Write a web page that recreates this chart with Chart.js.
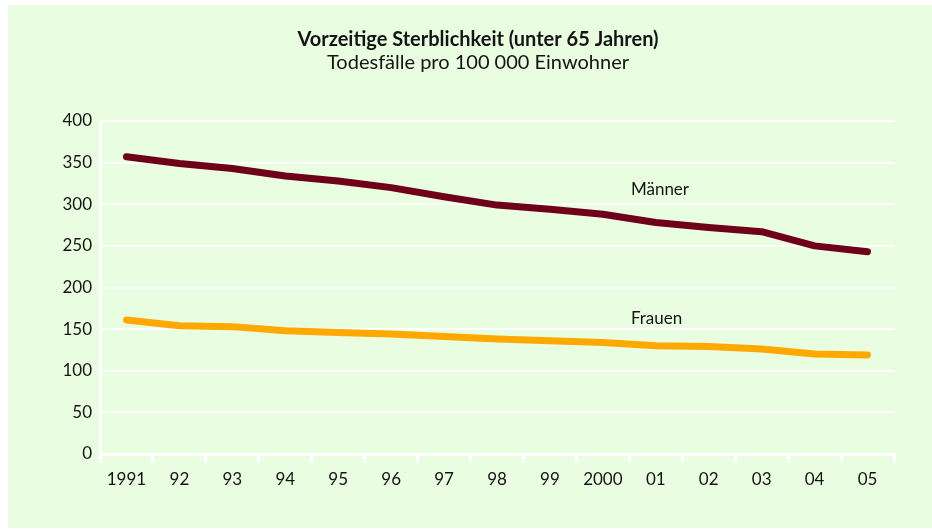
<!DOCTYPE html>
<html><head><meta charset="utf-8">
<script src="https://cdn.jsdelivr.net/npm/chart.js@4/dist/chart.umd.min.js"></script>
<style>html,body{margin:0;padding:0;background:#fff;}#wrap{width:932px;height:529px;position:relative;}</style>
</head><body><div id="wrap"><canvas id="c" width="932" height="529"></canvas></div>
<script>
const years = ['1991','92','93','94','95','96','97','98','99','2000','01','02','03','04','05'];
const maenner = [357,349,343,334,328,320,309,299,294,288,278,272,267,250,243];
const frauen  = [161,154,153,148,146,144,141,138,136,134,130,129,126,120,119];
const seriesNames = ['Männer','Frauen'];
const labelAnchors = [{x:9.53,y:318},{x:9.53,y:163}];
const yTicks = [0,50,100,150,200,250,300,350,400];
const titleText = 'Vorzeitige Sterblichkeit (unter 65 Jahren)';
const subtitleText = 'Todesfälle pro 100 000 Einwohner';
const FONT = 'Lato, "Open Sans", sans-serif';
const panel = {
  id:'panel',
  beforeDraw(chart){
    const c=chart.ctx; c.save();
    c.fillStyle='#fff'; c.fillRect(0,0,932,529);
    c.fillStyle='#e9fde1'; c.fillRect(8,5,924,523);
    c.restore();
  },
  afterDraw(chart){
    const c=chart.ctx; c.save();
    c.fillStyle='#141414'; c.textAlign='center'; c.textBaseline='middle';
    c.font='bold 20px '+FONT; c.fillText(titleText,478,40);
    c.font='20px '+FONT; c.fillText(subtitleText,478,63);
    const xs=chart.scales.x, ys=chart.scales.y;
    c.font='17px '+FONT; c.textAlign='left';
    seriesNames.forEach((n,i)=>{
      c.fillText(n, xs.getPixelForValue(labelAnchors[i].x), ys.getPixelForValue(labelAnchors[i].y));
    });
    c.restore();
  }
};
new Chart(document.getElementById('c'),{
  type:'line',
  data:{labels:years,datasets:[
    {label:seriesNames[0],data:maenner,borderColor:'#6e0019',borderWidth:7,pointRadius:0,tension:0,borderCapStyle:'round',borderJoinStyle:'round'},
    {label:seriesNames[1],data:frauen,borderColor:'#ffa800',borderWidth:7,pointRadius:0,tension:0,borderCapStyle:'round',borderJoinStyle:'round'}
  ]},
  options:{
    responsive:false,animation:false,
    layout:{padding:{left:0,right:38,top:121,bottom:0}},
    plugins:{legend:{display:false},tooltip:{enabled:false},title:{display:false}},
    scales:{
      x:{offset:true,
        grid:{offset:true,drawOnChartArea:false,drawTicks:true,tickLength:9,color:'#fff',lineWidth:3},
        border:{display:true,color:'#fff',width:3},
        ticks:{color:'#141414',font:{family:FONT,size:17},padding:6,maxRotation:0,autoSkip:false},
        afterFit(s){s.height=75;}
      },
      y:{min:0,max:400,
        afterBuildTicks(s){s.ticks=yTicks.map(v=>({value:v}));},
        grid:{color:'#fff',lineWidth:2,drawTicks:false},
        border:{display:true,color:'#fff',width:3},
        ticks:{color:'#141414',font:{family:FONT,size:17},padding:8},
        afterFit(s){s.width=100;}
      }
    }
  },
  plugins:[panel]
});
</script></body></html>
